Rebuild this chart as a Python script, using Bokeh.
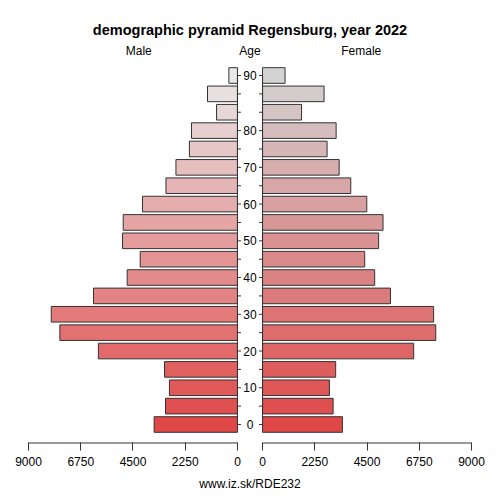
from bokeh.plotting import figure
from bokeh.models import ColumnDataSource, FixedTicker, Range1d, Title
from bokeh.core.properties import value
from bokeh.embed import file_html
from bokeh.resources import INLINE

# data, age groups from bottom (0) to top (90)
age_labels = ["0", "", "10", "", "20", "", "30", "", "40", "", "50", "",
              "60", "", "70", "", "80", "", "", "90"]
male = [3590, 3100, 2930, 3140, 5990, 7650, 8020, 6200, 4750, 4190,
        4950, 4920, 4090, 3080, 2650, 2070, 1980, 900, 1290, 370]
female = [3440, 3040, 2880, 3150, 6510, 7460, 7370, 5510, 4830, 4400,
          5000, 5190, 4490, 3800, 3300, 2780, 3170, 1680, 2650, 970]
x_ticks = [0, 2250, 4500, 6750, 9000]
title = "demographic pyramid Regensburg, year 2022"
headers = ["Male", "Age", "Female"]
footer = "www.iz.sk/RDE232"

FONT = "Liberation Sans"
G = 540          # half of the gap in the middle, in data units
AXIS_Y = -1.007  # where the bottom axis line sits
n = len(male)
idx = list(range(n))


def ramp(c0, c1, k):
    t = k / (n - 1)
    r, g, b = (round(a + (b_ - a) * t) for a, b_ in zip(c0, c1))
    return "#%02x%02x%02x" % (r, g, b)


male_colors = [ramp((224, 72, 72), (232, 232, 232), k) for k in idx]
female_colors = [ramp((224, 72, 72), (211, 211, 211), k) for k in idx]

src = ColumnDataSource(dict(
    y=idx,
    ml=[-G - m for m in male],
    fr=[G + f for f in female],
    mc=male_colors,
    fc=female_colors,
))

xmax = G + x_ticks[-1]
p = figure(width=500, height=500, output_backend="svg", toolbar_location=None,
           x_range=Range1d(-xmax, xmax), y_range=Range1d(-1.089, 23.083),
           y_axis_location=None, min_border_left=28, min_border_right=29,
           min_border_top=0, min_border_bottom=56)
p.outline_line_color = None
p.grid.visible = False

p.hbar(y="y", left="ml", right=-G, height=0.85, fill_color="mc",
       line_color="#333333", line_width=1, source=src)
p.hbar(y="y", left=G, right="fr", height=0.85, fill_color="fc",
       line_color="#333333", line_width=1, source=src)

# centre age axis
p.segment(x0=[-G, G], x1=[-G, G], y0=[0, 0], y1=[n - 1, n - 1],
          line_color="#333333", line_width=1)
p.segment(x0=-G, x1=-G + 150, y0=idx, y1=idx, line_color="#333333")
p.segment(x0=G - 150, x1=G, y0=idx, y1=idx, line_color="#333333")
p.text(x=0, y=idx, text=age_labels, text_align="center", text_baseline="middle",
       text_font_size="12px", text_font=value(FONT), text_color="black")

# titles above the bars
p.text(x=[0], y=[21.5], text=[title], text_align="center", text_baseline="middle",
       text_font_size="14.5px", text_font=value(FONT), text_font_style="bold",
       text_color="black")
p.text(x=[-G - 4250, 0, G + 4250], y=[20.36] * 3, text=headers, text_align="center",
       text_baseline="middle", text_font_size="12px", text_font=value(FONT),
       text_color="black")

# bottom axes: one bokeh axis for the ticks, two lines for the halves
p.segment(x0=[-xmax, G], x1=[-G, xmax], y0=[AXIS_Y, AXIS_Y], y1=[AXIS_Y, AXIS_Y],
          line_color="#333333", line_width=1)
tick_pos = [-G - t for t in x_ticks] + [G + t for t in x_ticks]
p.xaxis.ticker = FixedTicker(ticks=tick_pos)
p.xaxis.major_label_overrides = {pos: str(t) for pos, t in zip(tick_pos, x_ticks + x_ticks)}
p.xaxis.axis_line_color = None
p.xaxis.major_tick_in = 2
p.xaxis.major_tick_out = 6
p.xaxis.major_tick_line_color = "#333333"
p.xaxis.minor_tick_line_color = None
p.xaxis.major_label_standoff = 6
p.xaxis.major_label_text_font = FONT
p.xaxis.major_label_text_font_size = "12px"
p.xaxis.major_label_text_color = "black"

p.add_layout(Title(text=footer, align="center", text_font=FONT, text_font_size="12px",
                   text_font_style="normal", text_color="black", standoff=13), "below")

open("out.html", "w").write(file_html(p, INLINE))
